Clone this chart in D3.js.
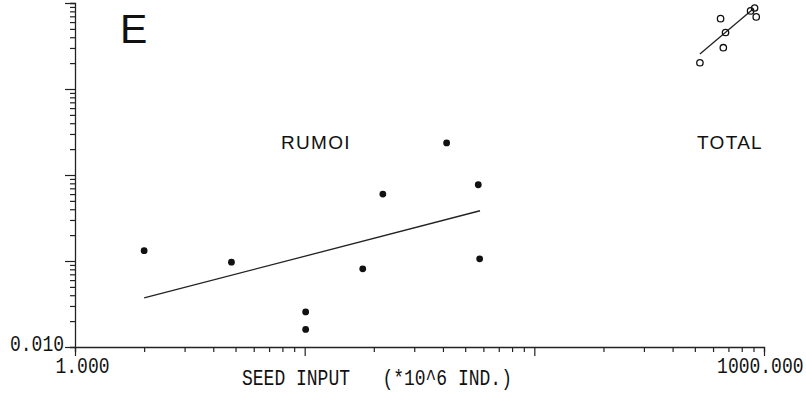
<!DOCTYPE html>
<html>
<head>
<meta charset="utf-8">
<script src="https://cdn.jsdelivr.net/npm/d3@7"></script>
<style>
  body { margin: 0; background: #fff; }
  text { fill: #111; }
</style>
</head>
<body>
<div id="my_dataviz"></div>
<script>
// RUMOI release (filled dots)
var rumoiInput = [2.0, 4.8, 10.1, 10.1, 17.9, 21.9, 41.5, 57, 57.8];
var rumoiRate  = [0.132, 0.097, 0.0256, 0.016, 0.081, 0.60, 2.36, 0.77, 0.106];
var rumoiFitX  = [2.0, 58];
var rumoiFitY  = [0.0372, 0.384];

// TOTAL (open circles)
var totalInput = [526, 647, 680, 665, 874, 910, 925];
var totalRate  = [20.2, 65.8, 45.4, 30.2, 80.9, 87.5, 68.9];
var totalFitX  = [526, 894];
var totalFitY  = [25.5, 84.5];

var xLabels = {1: "1.000", 1000: "1000.000"};
var yLabels = {0.01: "0.010"};

var margin = {top: 3, right: 42, bottom: 51, left: 75},
    width = 806 - margin.left - margin.right,
    height = 398 - margin.top - margin.bottom;

var stretch = 1.2; // plotter font is tall and narrow

var svg = d3.select("#my_dataviz")
  .append("svg")
    .attr("width", 806)
    .attr("height", 398)
  .append("g")
    .attr("transform", "translate(" + margin.left + "," + margin.top + ")");

var x = d3.scaleLog().domain([1, 1000]).range([0, width]);
var y = d3.scaleLog().domain([0.01, 100]).range([height, 0]);

function isDecade(v) {
  var l = Math.log10(v);
  return Math.abs(l - Math.round(l)) < 1e-9;
}

// X axis
var xAxis = svg.append("g")
  .attr("transform", "translate(0," + height + ")")
  .call(d3.axisBottom(x).tickSizeOuter(0).tickSize(5)
    .tickFormat(function(d){ return xLabels[d] || ""; }));
xAxis.selectAll(".tick line")
  .attr("y2", function(d){ return isDecade(d) ? 9 : 5; });
xAxis.selectAll(".tick text")
  .style("font-family", "Liberation Mono, monospace")
  .style("font-size", "18px")
  .attr("y", 26 / stretch)
  .attr("dy", null)
  .attr("transform", "scale(1," + stretch + ")");
xAxis.selectAll(".tick text").filter(function(d){ return d === 1; })
  .attr("text-anchor", "start")
  .attr("dx", -20);
xAxis.selectAll(".tick text").filter(function(d){ return d === 1000; })
  .attr("text-anchor", "end")
  .attr("dx", 39);

// Y axis
var yAxis = svg.append("g")
  .call(d3.axisLeft(y).tickSizeOuter(0).tickSize(5)
    .tickFormat(function(d){ return yLabels[d] || ""; }));
yAxis.selectAll(".tick line")
  .attr("x2", function(d){ return isDecade(d) ? -10 : -5; });
yAxis.selectAll(".tick text")
  .style("font-family", "Liberation Mono, monospace")
  .style("font-size", "18px")
  .attr("x", -11)
  .attr("dy", null)
  .attr("y", 3 / stretch)
  .attr("transform", "scale(1," + stretch + ")");

svg.selectAll(".domain").attr("stroke", "#222").attr("stroke-width", 1.3);
svg.selectAll(".tick line").attr("stroke", "#222").attr("stroke-width", 1.2);

// axis title
svg.append("text")
  .attr("transform", "translate(" + (242 - margin.left) + "," + (385 - margin.top) + ") scale(1," + stretch + ")")
  .style("font-family", "Liberation Mono, monospace")
  .style("font-size", "18px")
  .style("white-space", "pre")
  .text("SEED INPUT   (*10^6 IND.)");

// panel letter and group labels
svg.append("text")
  .attr("x", 120 - margin.left)
  .attr("y", 43 - margin.top)
  .style("font-family", "Liberation Sans, Arial, sans-serif")
  .style("font-size", "41px")
  .text("E");

svg.append("text")
  .attr("x", 281 - margin.left)
  .attr("y", 149 - margin.top)
  .style("font-family", "Liberation Sans, Arial, sans-serif")
  .style("font-size", "19px")
  .style("letter-spacing", "1.3px")
  .text("RUMOI");

svg.append("text")
  .attr("x", 697 - margin.left)
  .attr("y", 149 - margin.top)
  .style("font-family", "Liberation Sans, Arial, sans-serif")
  .style("font-size", "19px")
  .style("letter-spacing", "1.3px")
  .text("TOTAL");

// regression lines
var line = d3.line()
  .x(function(d){ return x(d[0]); })
  .y(function(d){ return y(d[1]); });

svg.append("path")
  .datum(d3.zip(rumoiFitX, rumoiFitY))
  .attr("d", line)
  .attr("fill", "none")
  .attr("stroke", "#222")
  .attr("stroke-width", 1.3);

svg.append("path")
  .datum(d3.zip(totalFitX, totalFitY))
  .attr("d", line)
  .attr("fill", "none")
  .attr("stroke", "#222")
  .attr("stroke-width", 1.3);

// points
svg.append("g").selectAll("circle")
  .data(d3.zip(rumoiInput, rumoiRate))
  .enter().append("circle")
    .attr("cx", function(d){ return x(d[0]); })
    .attr("cy", function(d){ return y(d[1]); })
    .attr("r", 3.4)
    .attr("fill", "#111");

svg.append("g").selectAll("circle")
  .data(d3.zip(totalInput, totalRate))
  .enter().append("circle")
    .attr("cx", function(d){ return x(d[0]); })
    .attr("cy", function(d){ return y(d[1]); })
    .attr("r", 3.2)
    .attr("fill", "none")
    .attr("stroke", "#111")
    .attr("stroke-width", 1.3);
</script>
</body>
</html>
